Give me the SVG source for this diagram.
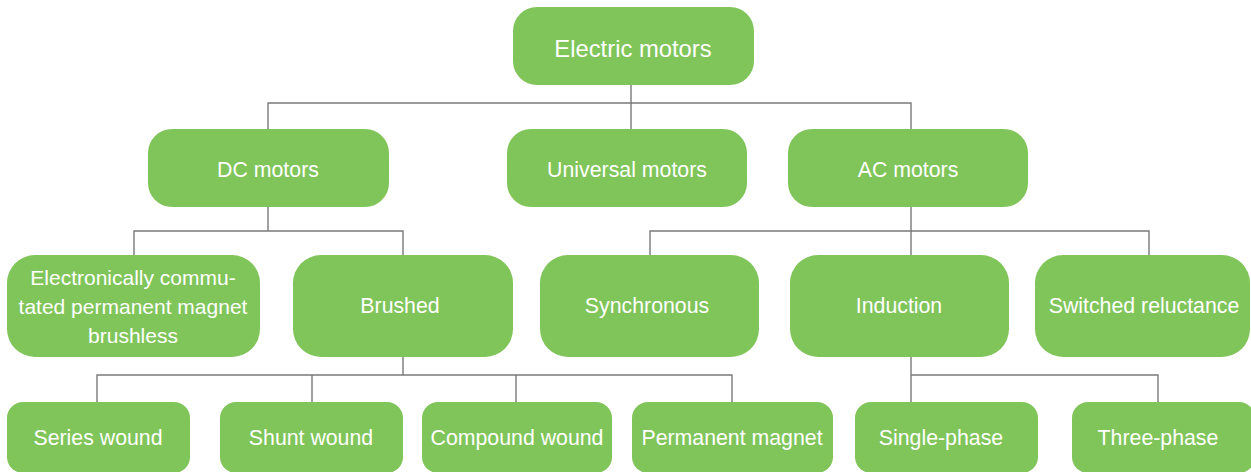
<svg xmlns="http://www.w3.org/2000/svg" width="1251" height="472" viewBox="0 0 1251 472">
<style>
.n{fill:#80C55A}
.t{fill:#fff;font-family:"Liberation Sans",Arial,sans-serif;font-size:21.3px;text-anchor:middle;dominant-baseline:central}
.c{fill:none;stroke:#7a7a7a;stroke-width:1.4}
</style>
<rect width="1251" height="472" fill="#fff"/>
<g id="connectors" class="c">
<path d="M631 85V129M268 129V103H911V129"/>
<path d="M268 207V231M134 256V231H403V256"/>
<path d="M911 207V231M650 256V231H1149V256M911 231V256"/>
<path d="M403 357V375M97 402V375H732V402M312 375V402M516 375V402"/>
<path d="M911 357V402M911 375H1158V402"/>
</g>
<g id="electric-motors"><rect class="n" x="513" y="7" width="241" height="78" rx="24"/><text class="t" x="633" y="48" style="font-size:23.8px">Electric motors</text></g>
<g id="dc-motors"><rect class="n" x="148" y="129" width="241" height="78" rx="24"/><text class="t" x="268" y="170">DC motors</text></g>
<g id="universal-motors"><rect class="n" x="507" y="129" width="240" height="78" rx="24"/><text class="t" x="627" y="170">Universal motors</text></g>
<g id="ac-motors"><rect class="n" x="788" y="129" width="240" height="78" rx="24"/><text class="t" x="908" y="170">AC motors</text></g>
<g id="ec-pm-brushless"><rect class="n" x="7" y="255" width="253" height="102" rx="28"/><text class="t" x="133" y="277" style="font-size:21px">Electronically commu-</text><text class="t" x="133" y="306" style="font-size:21px">tated permanent magnet</text><text class="t" x="133" y="335" style="font-size:21px">brushless</text></g>
<g id="brushed"><rect class="n" x="293" y="255" width="220" height="102" rx="28"/><text class="t" x="400" y="306">Brushed</text></g>
<g id="synchronous"><rect class="n" x="540" y="255" width="219" height="102" rx="28"/><text class="t" x="647" y="306">Synchronous</text></g>
<g id="induction"><rect class="n" x="790" y="255" width="219" height="102" rx="28"/><text class="t" x="899" y="306">Induction</text></g>
<g id="switched-reluctance"><rect class="n" x="1035" y="255" width="215" height="102" rx="28"/><text class="t" x="1144" y="306">Switched reluctance</text></g>
<g id="series-wound"><rect class="n" x="7" y="402" width="183" height="71" rx="16"/><text class="t" x="98" y="438">Series wound</text></g>
<g id="shunt-wound"><rect class="n" x="220" y="402" width="183" height="71" rx="16"/><text class="t" x="311" y="438">Shunt wound</text></g>
<g id="compound-wound"><rect class="n" x="422" y="402" width="190" height="71" rx="16"/><text class="t" x="517" y="438">Compound wound</text></g>
<g id="permanent-magnet"><rect class="n" x="632" y="402" width="201" height="71" rx="16"/><text class="t" x="732" y="438">Permanent magnet</text></g>
<g id="single-phase"><rect class="n" x="855" y="402" width="183" height="71" rx="16"/><text class="t" x="941" y="438">Single-phase</text></g>
<g id="three-phase"><rect class="n" x="1072" y="402" width="183" height="71" rx="16"/><text class="t" x="1158" y="438">Three-phase</text></g>
</svg>
